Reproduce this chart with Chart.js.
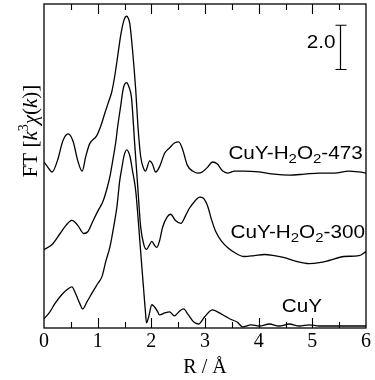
<!DOCTYPE html>
<html>
<head>
<meta charset="utf-8">
<script src="https://cdn.jsdelivr.net/npm/chart.js"></script>
<style>
  html, body { margin: 0; padding: 0; background: #fff; }
  #wrap { width: 375px; height: 380px; }
</style>
</head>
<body>
<div id="wrap"><canvas id="ftChart"></canvas></div>
<script>
// --- Data (R in Å, FT magnitude, curves already offset as in the figure) ---

const xTicks = [0, 1, 2, 3, 4, 5, 6];

const rH2O2_473 = [0,0.07,0.15,0.26,0.35,0.45,0.54,0.63,0.71,0.78,0.85,0.98,1.06,1.13,1.21,1.26,1.32,1.375,1.43,1.49,1.54,1.57,1.60,1.65,1.71,1.75,1.80,1.86,1.89,1.97,2.02,2.08,2.15,2.25,2.34,2.43,2.51,2.58,2.67,2.77,2.86,2.95,3.05,3.14,3.23,3.33,3.42,3.55,3.73,4.01,4.29,4.57,4.85,5.13,5.41,5.68,5.87,6.0];
const ftH2O2_473 = [7.50,7.27,7.05,7.64,8.45,8.77,8.45,7.55,7.09,7.77,8.32,8.68,9.14,9.68,10.27,10.64,11.41,12.32,13.23,13.91,14.09,14.0,13.73,12.55,10.73,9.14,7.77,7.18,7.09,7.55,7.41,7.05,7.27,7.91,8.14,8.36,8.41,8.09,7.36,7.09,7.0,7.05,7.27,7.5,7.41,7.09,7.0,7.09,7.09,7.05,6.95,6.91,6.95,7.0,7.0,7.09,7.05,7.0];

const rH2O2_300 = [0,0.15,0.30,0.41,0.52,0.63,0.74,0.82,0.91,1.00,1.10,1.17,1.23,1.28,1.34,1.37,1.43,1.47,1.50,1.54,1.58,1.63,1.69,1.75,1.80,1.86,1.91,1.96,2.01,2.06,2.10,2.15,2.21,2.29,2.36,2.45,2.55,2.64,2.71,2.81,2.90,2.97,3.05,3.12,3.20,3.31,3.42,3.55,3.73,3.92,4.11,4.29,4.48,4.72,4.94,5.13,5.31,5.59,5.87,6.0];
const ftH2O2_300 = [3.55,3.77,4.27,4.64,4.86,4.64,4.27,4.36,4.82,5.27,5.73,6.27,6.86,7.55,8.45,9.05,10.05,10.73,11.0,11.09,10.91,10.41,8.32,6.27,4.59,3.77,3.55,3.73,3.91,3.73,3.64,3.91,4.55,5.0,5.14,4.86,4.73,5.09,5.41,5.73,5.91,5.86,5.5,4.91,4.36,3.91,3.64,3.41,3.23,3.27,3.32,3.27,3.18,3.0,2.91,2.95,3.05,3.23,3.27,3.45];

const rCuY = [0,0.11,0.20,0.33,0.45,0.52,0.59,0.67,0.72,0.80,0.91,1.00,1.08,1.15,1.23,1.30,1.36,1.41,1.45,1.49,1.54,1.60,1.65,1.71,1.765,1.82,1.86,1.89,1.91,1.95,2.01,2.06,2.12,2.15,2.25,2.34,2.43,2.53,2.60,2.69,2.79,2.88,2.99,3.14,3.27,3.40,3.51,3.60,3.70,3.86,4.01,4.20,4.38,4.57,4.76,4.94,5.13,5.41,5.68,6.0];
const ftCuY = [0.41,0.73,1.09,1.5,1.77,1.86,1.55,1.09,0.86,1.18,1.64,2.0,2.32,3.0,3.68,4.59,5.5,6.64,7.23,7.77,8.05,7.77,7.09,6.18,4.59,2.86,1.64,0.73,0.23,0.5,1.05,0.95,0.73,0.59,0.68,0.73,0.55,0.77,0.86,0.59,0.27,0.18,0.5,0.82,0.68,0.5,0.36,0.27,0.05,0.14,0.09,0.18,0.09,0.18,0.09,0.14,0.09,0.09,0.09,0.09];

// scale bar: 2.0 units
const scaleBarFrom = 11.68;
const scaleBarTo = 13.68;

const SERIF = '"Liberation Serif", "DejaVu Serif", serif';
const SANS = '"Liberation Sans", Arial, sans-serif';

function toPoints(xs, ys) {
    return xs.map((x, i) => ({ x, y: ys[i] }));
}

// draws a run of text pieces; each piece: [text, italic, sizeFactor, dy]
function drawRich(ctx, pieces, x, y, size, family, align) {
    const fontOf = p => `${p[1] ? 'italic ' : ''}${Math.round(size * (p[2] || 1))}px ${family}`;
    let total = 0;
    pieces.forEach(p => { ctx.font = fontOf(p); total += ctx.measureText(p[0]).width; });
    let cx = align === 'right' ? x - total : align === 'center' ? x - total / 2 : x;
    ctx.textAlign = 'left';
    ctx.textBaseline = 'alphabetic';
    pieces.forEach(p => {
        ctx.font = fontOf(p);
        ctx.fillText(p[0], cx, y + (p[3] || 0));
        cx += ctx.measureText(p[0]).width;
    });
}

function drawLabel(ctx, pieces, xRight, yBase) {
    // the original lettering is a little wider than Arial, so stretch it
    ctx.save();
    ctx.translate(xRight, yBase);
    ctx.scale(1.15, 1);
    drawRich(ctx, pieces, 0, 0, 18, SANS, 'right');
    ctx.restore();
}

const framePlugin = {
    id: 'frame',
    afterDraw(chart) {
        const { ctx, chartArea: a, scales: { x, y } } = chart;
        ctx.save();
        ctx.strokeStyle = '#000';
        ctx.fillStyle = '#000';

        // box
        ctx.lineWidth = 1.3;
        ctx.strokeRect(a.left, a.top, a.right - a.left, a.bottom - a.top);

        // inward ticks on bottom and top
        ctx.lineWidth = 1.1;
        for (let v = 0.5; v < 6; v += 0.5) {
            const px = Math.round(x.getPixelForValue(v)) + 0.5;
            const len = Number.isInteger(v) ? 10 : 6;
            ctx.beginPath();
            ctx.moveTo(px, a.bottom); ctx.lineTo(px, a.bottom - len);
            ctx.moveTo(px, a.top); ctx.lineTo(px, a.top + len);
            ctx.stroke();
        }

        // scale bar
        const bx = Math.round(x.getPixelForValue(5.52)) + 0.5;
        const y0 = y.getPixelForValue(scaleBarFrom);
        const y1 = y.getPixelForValue(scaleBarTo);
        ctx.lineWidth = 1.2;
        ctx.beginPath();
        ctx.moveTo(bx, y0); ctx.lineTo(bx, y1);
        ctx.moveTo(bx - 5, y0); ctx.lineTo(bx + 6, y0);
        ctx.moveTo(bx - 5, y1); ctx.lineTo(bx + 6, y1);
        ctx.stroke();
        drawLabel(ctx, [['2.0']], bx - 5, y.getPixelForValue(12.64));

        // curve labels
        drawLabel(ctx, [['CuY-H'], ['2', false, 0.7, 4], ['O'], ['2', false, 0.7, 4], ['-473']],
            x.getPixelForValue(5.94), y.getPixelForValue(7.64));
        drawLabel(ctx, [['CuY-H'], ['2', false, 0.7, 4], ['O'], ['2', false, 0.7, 4], ['-300']],
            x.getPixelForValue(5.98), y.getPixelForValue(4.05));
        drawLabel(ctx, [['CuY']], x.getPixelForValue(5.18), y.getPixelForValue(0.73));

        // y title, rotated
        ctx.translate(37, 131);
        ctx.rotate(-Math.PI / 2);
        drawRich(ctx, [['FT ['], ['k', true], ['3', false, 0.65, -9], ['χ', true], ['('], ['k', true], [')]']],
            0, 0, 21, SERIF, 'center');
        ctx.restore();
    }
};

const lineStyle = {
    borderColor: '#000',
    borderWidth: 1.3,
    pointRadius: 0,
    fill: false,
    cubicInterpolationMode: 'monotone'
};

new Chart(document.getElementById('ftChart'), {
    type: 'line',
    data: {
        datasets: [
            { label: 'CuY-H2O2-473', data: toPoints(rH2O2_473, ftH2O2_473), ...lineStyle },
            { label: 'CuY-H2O2-300', data: toPoints(rH2O2_300, ftH2O2_300), ...lineStyle },
            { label: 'CuY', data: toPoints(rCuY, ftCuY), ...lineStyle }
        ]
    },
    options: {
        responsive: true,
        maintainAspectRatio: false,
        animation: false,
        layout: { padding: { left: 44, right: 8, top: 4, bottom: 2 } },
        plugins: { legend: { display: false }, tooltip: { enabled: false } },
        scales: {
            x: {
                type: 'linear',
                min: 0,
                max: 6,
                afterBuildTicks: scale => { scale.ticks = xTicks.map(v => ({ value: v })); },
                grid: { display: false, drawTicks: false },
                border: { display: false },
                ticks: {
                    color: '#000',
                    padding: 4,
                    autoSkip: false,
                    maxRotation: 0,
                    font: { family: SERIF, size: 20, lineHeight: 1 }
                },
                title: {
                    display: true,
                    text: 'R / Å',
                    color: '#000',
                    padding: { top: 2, bottom: 0 },
                    font: { family: SERIF, size: 20, lineHeight: 1 }
                }
            },
            y: {
                display: false,
                min: 0,
                max: 14.64
            }
        }
    },
    plugins: [framePlugin]
});
</script>
</body>
</html>
